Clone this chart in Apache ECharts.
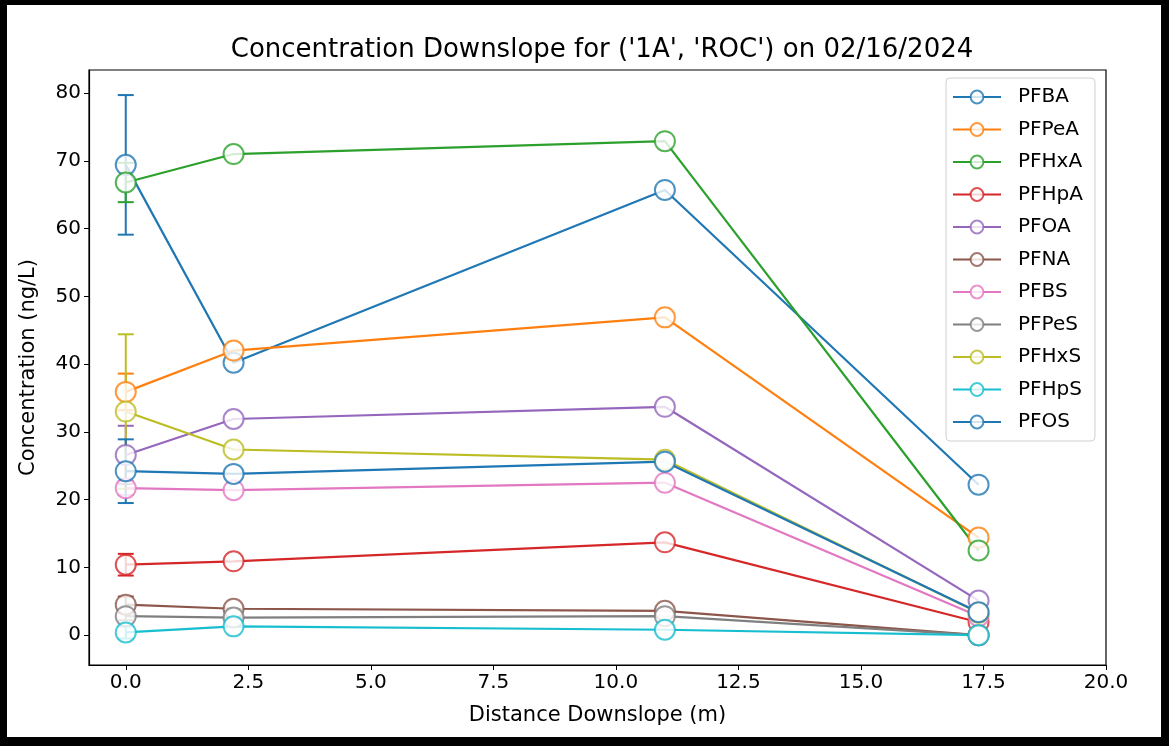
<!DOCTYPE html>
<html>
<head>
<meta charset="utf-8">
<script src="https://cdn.jsdelivr.net/npm/echarts@6/dist/echarts.min.js"></script>
<style>
  html, body { margin: 0; padding: 0; background: #000; }
  #paper { position: absolute; left: 7px; top: 5px; width: 1154px; height: 732px; background: #fff; }
  #chart { position: absolute; left: 0; top: 0; width: 1169px; height: 746px; }
</style>
</head>
<body>
<div id="paper"></div>
<div id="chart"></div>
<script>
var distance = [0, 2.2, 11, 17.4];

var names = ['PFBA', 'PFPeA', 'PFHxA', 'PFHpA', 'PFOA', 'PFNA', 'PFBS', 'PFPeS', 'PFHxS', 'PFHpS', 'PFOS'];
var colors = ['#1f77b4', '#ff7f0e', '#2ca02c', '#d62728', '#9467bd', '#8c564b',
              '#e377c2', '#7f7f7f', '#bcbd22', '#17becf', '#1f77b4'];

// concentration (ng/L) at each distance
var pfba  = [69.4, 40.2, 65.7, 22.2];
var pfpea = [35.9, 42.0, 46.9, 14.4];
var pfhxa = [66.8, 71.0, 72.9, 12.5];
var pfhpa = [10.4, 10.9, 13.7, 1.9];
var pfoa  = [26.6, 31.9, 33.7, 5.1];
var pfna  = [4.5, 3.9, 3.6, 0.0];
var pfbs  = [21.7, 21.4, 22.5, 2.8];
var pfpes = [2.8, 2.6, 2.8, 0.0];
var pfhxs = [33.0, 27.4, 25.9, 3.3];
var pfhps = [0.4, 1.3, 0.8, 0.0];
var pfos  = [24.2, 23.8, 25.6, 3.4];

// error (+/-) at each distance, null = no bar
var pfbaErr  = [10.3, null, null, null];
var pfpeaErr = [2.7, null, null, null];
var pfhxaErr = [2.9, null, null, null];
var pfhpaErr = [1.6, null, null, null];
var pfoaErr  = [4.3, null, null, null];
var pfnaErr  = [1.2, null, null, null];
var pfbsErr  = [1.0, null, null, null];
var pfpesErr = [0.6, null, null, null];
var pfhxsErr = [11.4, null, null, null];
var pfhpsErr = [0.9, null, null, null];
var pfosErr  = [4.7, null, null, null];

var xTicks = [0, 2.5, 5, 7.5, 10, 12.5, 15, 17.5, 20];
var yTicks = [0, 10, 20, 30, 40, 50, 60, 70, 80];

var values = [pfba, pfpea, pfhxa, pfhpa, pfoa, pfna, pfbs, pfpes, pfhxs, pfhps, pfos];
var errors = [pfbaErr, pfpeaErr, pfhxaErr, pfhpaErr, pfoaErr, pfnaErr, pfbsErr, pfpesErr, pfhxsErr, pfhpsErr, pfosErr];

var font = 'DejaVu Sans';
var chart = echarts.init(document.getElementById('chart'));

var series = [];
names.forEach(function (name, i) {
  series.push({
    name: name,
    type: 'line',
    data: distance.map(function (d, j) { return [d, values[i][j]]; }),
    symbol: 'emptyCircle',
    symbolSize: 20,
    showAllSymbol: true,
    color: colors[i],
    lineStyle: { width: 2.2, color: colors[i] },
    itemStyle: { color: colors[i], borderColor: colors[i], borderWidth: 1.4, opacity: 0.8 },
    emphasis: { disabled: true },
    z: 3
  });
});
names.forEach(function (name, i) {
  var pts = [];
  distance.forEach(function (d, j) {
    if (errors[i][j] != null) pts.push([d, values[i][j], errors[i][j]]);
  });
  series.push({
    name: name,
    type: 'custom',
    data: pts,
    encode: { x: 0, y: 1 },
    z: 3,
    renderItem: function (params, api) {
      var x = api.value(0), y = api.value(1), e = api.value(2);
      var top = api.coord([x, y + e]);
      var bot = api.coord([x, y - e]);
      var st = { stroke: colors[i], lineWidth: 2 };
      return {
        type: 'group',
        children: [
          { type: 'line', shape: { x1: top[0], y1: top[1], x2: bot[0], y2: bot[1] }, style: st },
          { type: 'line', shape: { x1: top[0] - 8, y1: top[1], x2: top[0] + 8, y2: top[1] }, style: st },
          { type: 'line', shape: { x1: bot[0] - 8, y1: bot[1], x2: bot[0] + 8, y2: bot[1] }, style: st }
        ]
      };
    }
  });
});

var option = {
  animation: false,
  backgroundColor: 'transparent',
  title: {
    text: "Concentration Downslope for ('1A', 'ROC') on 02/16/2024",
    left: 597,
    textAlign: 'center',
    top: 32,
    textStyle: { fontFamily: font, fontSize: 26, fontWeight: 'normal', color: '#000' }
  },
  legend: {
    orient: 'vertical',
    left: 946,
    top: 78,
    padding: [9, 12, 9, 6],
    itemWidth: 48,
    itemHeight: 16,
    itemGap: 12.5,
    borderColor: '#d0d0d0',
    borderWidth: 1,
    borderRadius: 4,
    backgroundColor: 'rgba(255,255,255,0.85)',
    data: names,
    textStyle: { fontFamily: font, fontSize: 20, color: '#000', padding: [0, 0, 0, 12] }
  },
  grid: { left: 89, right: 63, top: 70, bottom: 81, show: true, borderColor: '#000', borderWidth: 1.2 },
  xAxis: {
    type: 'value',
    min: -0.75,
    max: 20,
    name: 'Distance Downslope (m)',
    nameLocation: 'middle',
    nameGap: 40,
    nameTextStyle: { fontFamily: font, fontSize: 21, color: '#000' },
    axisLine: { show: true, onZero: false, lineStyle: { color: '#000', width: 1.2 } },
    axisTick: { show: true, length: 5, customValues: xTicks, lineStyle: { color: '#000' } },
    axisLabel: {
      customValues: xTicks,
      fontFamily: font, fontSize: 20, color: '#000', margin: 8,
      formatter: function (v) { return v.toFixed(1); }
    },
    splitLine: { show: false }
  },
  yAxis: {
    type: 'value',
    min: -4.4,
    max: 83.4,
    name: 'Concentration (ng/L)',
    nameLocation: 'middle',
    nameRotate: 90,
    nameGap: 50,
    nameTextStyle: { fontFamily: font, fontSize: 21, color: '#000' },
    axisLine: { show: true, onZero: false, lineStyle: { color: '#000', width: 1.2 } },
    axisTick: { show: true, length: 5, customValues: yTicks, lineStyle: { color: '#000' } },
    axisLabel: {
      customValues: yTicks,
      fontFamily: font, fontSize: 20, color: '#000', margin: 8
    },
    splitLine: { show: false }
  },
  series: series
};

chart.setOption(option);
</script>
</body>
</html>
